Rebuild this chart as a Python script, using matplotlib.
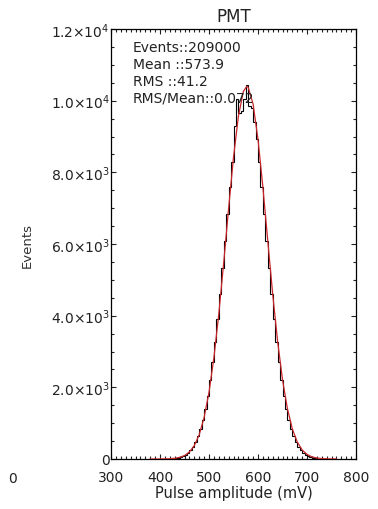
import numpy as np
import matplotlib
matplotlib.use("Agg")
import matplotlib.pyplot as plt
from matplotlib.ticker import FixedLocator, MultipleLocator

plt.rcParams["font.family"] = ["DejaVu Sans"]
plt.rcParams["mathtext.default"] = "regular"

# pulse-height histogram, 5 mV bins starting at 430 mV
BIN_START = 430.0
BIN_WIDTH = 5.0
counts = [
    26, 39, 59, 86, 125, 177, 249, 344, 469, 629,
    832, 1085, 1395, 1765, 2201, 2705, 3275, 3907, 4595, 5324,
    6080, 6842, 7583, 8283, 9300, 10050, 9650, 9700, 10050, 10450,
    9850, 9800, 9400, 8917, 8283, 7583, 6842, 6080, 5324, 4595,
    3907, 3275, 2705, 2201, 1765, 1395, 1085, 832, 629, 469,
    344, 249, 177, 125, 86, 59, 39, 26,
]

# gaussian fit overlay, sampled along the pulse axis
fit_x = [380, 400, 420, 430, 440, 450, 460, 470, 480, 490, 500, 510, 520,
         530, 540, 550, 560, 570, 577, 580, 590, 600, 610, 620, 630, 640,
         650, 660, 670, 680, 690, 700, 710, 720, 730, 740, 750, 760]
fit_y = [0, 1, 8, 20, 45, 96, 196, 374, 677, 1156, 1860, 2826, 4050,
         5477, 6990, 8417, 9563, 10253, 10400, 10373, 9902, 8919, 7581, 6080,
         4601, 3285, 2214, 1407, 844, 478, 255, 129, 61, 27, 12, 5, 2, 1]

stats = ["Events::209000", "Mean ::573.9", "RMS ::41.2", "RMS/Mean::0.072"]

y_ticks = [0, 2000, 4000, 6000, 8000, 10000, 12000]
y_labels = ["0", r"$2.0{\times}10^3$", r"$4.0{\times}10^3$", r"$6.0{\times}10^3$",
            r"$8.0{\times}10^3$", r"$1.0{\times}10^4$", r"$1.2{\times}10^4$"]

fig = plt.figure(figsize=(3.78, 5.10), dpi=100)
ax = fig.add_axes([111 / 378, 50 / 510, 245 / 378, 430 / 510])

edges = BIN_START + BIN_WIDTH * np.arange(len(counts) + 1)
ax.stairs(counts, edges, color="black", lw=0.8, zorder=2)
ax.plot(fit_x, fit_y, color="#c8262a", lw=0.9, zorder=3)

ax.set_xlim(300, 800)
ax.set_ylim(0, 12000)

ax.xaxis.set_major_locator(MultipleLocator(100))
ax.xaxis.set_minor_locator(MultipleLocator(10))
ax.yaxis.set_major_locator(FixedLocator(y_ticks))
ax.yaxis.set_minor_locator(MultipleLocator(500))
ax.set_yticklabels(y_labels)

ax.tick_params(which="both", direction="in", top=True, right=True,
               colors="#222", labelsize=10, width=0.8)
ax.tick_params(which="major", length=3.5)
ax.tick_params(which="minor", length=2)
ax.tick_params(axis="x", which="major", pad=8)
ax.tick_params(axis="y", which="major", pad=1)
for s in ax.spines.values():
    s.set_linewidth(0.9)

ax.set_xlabel("Pulse amplitude (mV)", fontsize=10.5, color="#222", labelpad=1)
ax.set_ylabel("Events", fontsize=9.5, color="#333", labelpad=12)
ax.set_title("PMT", fontsize=12, color="#222", pad=6)

for i, line in enumerate(stats):
    ax.text(0.09, 0.975 - i * 0.0395, line, transform=ax.transAxes,
            ha="left", va="top", fontsize=10, color="#222")

# clipped tick label from the neighbouring panel
fig.text(8 / 378, 1 - 479 / 510, "0", ha="left", va="center",
         fontsize=10, color="#222")

fig.savefig("out.png", dpi=100, facecolor="white")
